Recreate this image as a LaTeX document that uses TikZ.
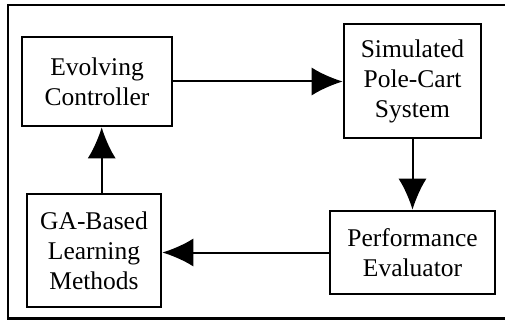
\documentclass[tikz,border=0pt]{standalone}
\usepackage{fontspec}
\setmainfont{Liberation Serif}
\usetikzlibrary{arrows.meta}
\begin{document}
\begin{tikzpicture}[x=1pt,y=-1pt,
  block/.style={draw,line width=2.6pt,rectangle,inner sep=0pt,align=center,
    font=\fontsize{25.5}{30}\selectfont},
  flow/.style={line width=2pt,-{Latex[length=31pt,width=28pt]}}]
  \useasboundingbox (0,0) rectangle (505,320);
  % open frame around the loop
  \draw[line width=2.3pt] (506,5) -- (8,5) -- (8,318.5) -- (506,318.5);
  % blocks
  \node[block,minimum width=150pt,minimum height=89pt] (evo) at (97,81.5) {Evolving\\Controller};
  \node[block,minimum width=137pt,minimum height=114pt] (sim) at (412.5,81) {Simulated\\Pole-Cart\\System};
  \node[block,minimum width=165pt,minimum height=83pt] (perf) at (412.5,252.5) {Performance\\Evaluator};
  \node[block,minimum width=134pt,minimum height=113pt] (ga) at (94,250.5) {GA-Based\\Learning\\Methods};
  % connectors
  \coordinate (gx) at (101.7,0);
  \draw[flow] (evo.east) -- (sim.west |- evo.east);
  \draw[flow] (sim.south) -- (perf.north);
  \draw[flow] (perf.west) -- (ga.east |- perf.west);
  \draw[flow] (ga.north -| gx) -- (evo.south -| gx);
\end{tikzpicture}
\end{document}
